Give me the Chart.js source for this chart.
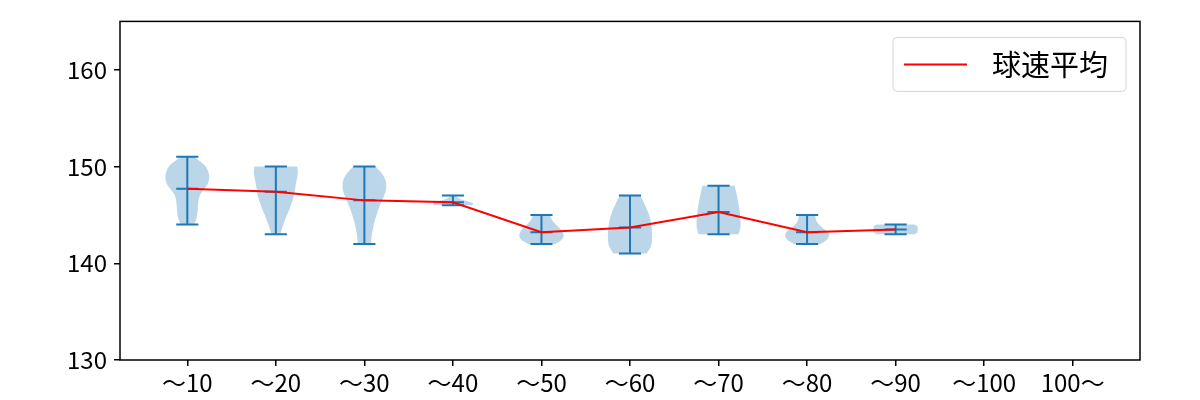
<!DOCTYPE html>
<html>
<head>
<meta charset="utf-8">
<script src="https://cdn.jsdelivr.net/npm/chart.js@4/dist/chart.umd.min.js"></script>
<style>
  body { margin: 0; background: #fff; }
</style>
</head>
<body>
<canvas id="violinChart" width="1200" height="400"></canvas>
<script>
//color
var blue = 'rgb(31, 119, 180)';
var blueFill = 'rgba(31, 119, 180, 0.3)';
var red = 'rgb(255, 0, 0)';
var fontName = '"Noto Sans CJK JP", "Noto Sans", sans-serif';

//---------------data
const categories = ['～10', '～20', '～30', '～40', '～50', '～60', '～70', '～80', '～90', '～100', '100～'];
const yTicks = [130, 140, 150, 160];
const legendLabel = '球速平均';

const meanSpeed = [147.7, 147.4, 146.5, 146.3, 143.2, 143.7, 145.3, 143.2, 143.5, null, null];
const maxSpeed = [151, 150, 150, 147, 145, 147, 148, 145, 144, null, null];
const minSpeed = [144, 143, 142, 146, 142, 141, 143, 142, 143, null, null];

// violin outline: speeds and relative half widths (1 = widest)
const violinSpeeds = [
  [151, 150.5, 150, 149.5, 149, 148.5, 148, 147.5, 147, 146.5, 146, 145.5, 145, 144.5, 144],
  [150, 149.5, 149, 148.5, 148, 147.5, 147, 146.5, 146, 145.5, 145, 144.5, 144, 143.5, 143],
  [150, 149.5, 149, 148.5, 148, 147.5, 147, 146.5, 146, 145.5, 145, 144.5, 144, 143.5, 143, 142.5, 142],
  [147, 146.8, 146.6, 146.4, 146.2, 146],
  [145, 144.75, 144.5, 144.25, 144, 143.75, 143.5, 143.25, 143, 142.75, 142.5, 142.25, 142],
  [147, 146.5, 146, 145.5, 145, 144.5, 144, 143.5, 143, 142.5, 142, 141.5, 141],
  [148, 147.5, 147, 146.5, 146, 145.5, 145, 144.5, 144, 143.5, 143],
  [145, 144.75, 144.5, 144.25, 144, 143.75, 143.5, 143.25, 143, 142.75, 142.5, 142.25, 142],
  [144, 143.9, 143.75, 143.5, 143.25, 143.1, 143],
  [],
  []
];
const violinWidths = [
  [0.3, 0.6, 0.85, 0.95, 1.0, 0.98, 0.88, 0.7, 0.55, 0.5, 0.48, 0.47, 0.45, 0.4, 0.3],
  [0.97, 1.0, 0.98, 0.93, 0.89, 0.86, 0.82, 0.76, 0.68, 0.6, 0.5, 0.42, 0.33, 0.27, 0.2],
  [0.5, 0.72, 0.88, 0.97, 1.0, 0.97, 0.9, 0.8, 0.7, 0.62, 0.55, 0.48, 0.42, 0.38, 0.34, 0.31, 0.3],
  [0.1, 0.2, 0.35, 0.65, 0.95, 0.85],
  [0.38, 0.42, 0.47, 0.55, 0.65, 0.77, 0.88, 0.96, 1.0, 1.0, 0.95, 0.82, 0.6],
  [0.46, 0.58, 0.68, 0.78, 0.86, 0.92, 0.96, 0.99, 1.0, 1.0, 0.98, 0.9, 0.75],
  [0.72, 0.78, 0.83, 0.87, 0.91, 0.95, 0.97, 0.99, 1.0, 0.98, 0.9],
  [0.36, 0.38, 0.4, 0.45, 0.53, 0.65, 0.8, 0.93, 1.0, 0.99, 0.93, 0.8, 0.6],
  [0.85, 0.95, 1.0, 1.0, 1.0, 0.95, 0.85],
  [],
  []
];

//---------------helpers
function smoothSide(ctx, pts, first) {
  if (first) ctx.moveTo(pts[0][0], pts[0][1]); else ctx.lineTo(pts[0][0], pts[0][1]);
  for (let k = 1; k < pts.length - 1; k++) {
    const mx = (pts[k][0] + pts[k + 1][0]) / 2;
    const my = (pts[k][1] + pts[k + 1][1]) / 2;
    ctx.quadraticCurveTo(pts[k][0], pts[k][1], mx, my);
  }
  const last = pts[pts.length - 1];
  ctx.lineTo(last[0], last[1]);
}

const violinPlugin = {
  id: 'violins',
  beforeDatasetsDraw(chart) {
    const ctx = chart.ctx;
    const ca = chart.chartArea;
    const xs = chart.scales.x, ys = chart.scales.y;
    const halfW = xs.getPixelForValue(1.25) - xs.getPixelForValue(1);
    ctx.save();
    ctx.beginPath();
    ctx.rect(ca.left, ca.top, ca.right - ca.left, ca.bottom - ca.top);
    ctx.clip();
    violinSpeeds.forEach((speeds, i) => {
      if (!speeds.length) return;
      const cx = xs.getPixelForValue(i + 1);
      const right = speeds.map((v, k) => [cx + violinWidths[i][k] * halfW, ys.getPixelForValue(v)]);
      const left = right.slice().reverse().map(p => [2 * cx - p[0], p[1]]);
      ctx.beginPath();
      smoothSide(ctx, right, true);
      smoothSide(ctx, left, false);
      ctx.closePath();
      ctx.fillStyle = blueFill;
      ctx.fill();
    });
    ctx.strokeStyle = blue;
    ctx.lineWidth = 2;
    categories.forEach((c, i) => {
      if (maxSpeed[i] == null) return;
      const cx = xs.getPixelForValue(i + 1);
      const capW = halfW / 2;
      ctx.beginPath();
      ctx.moveTo(cx, ys.getPixelForValue(maxSpeed[i]));
      ctx.lineTo(cx, ys.getPixelForValue(minSpeed[i]));
      [maxSpeed[i], minSpeed[i], meanSpeed[i]].forEach(v => {
        const py = ys.getPixelForValue(v);
        ctx.moveTo(cx - capW, py);
        ctx.lineTo(cx + capW, py);
      });
      ctx.stroke();
    });
    ctx.restore();
  },
  afterDatasetsDraw(chart) {
    const ctx = chart.ctx;
    const ca = chart.chartArea;
    ctx.save();
    ctx.strokeStyle = '#000';
    ctx.lineWidth = 1.5;
    ctx.strokeRect(ca.left, ca.top, ca.right - ca.left, ca.bottom - ca.top);
    // legend
    const boxW = 233, boxH = 54;
    const bx = ca.right - 14 - boxW, by = ca.top + 16;
    ctx.beginPath();
    ctx.roundRect(bx, by, boxW, boxH, 4);
    ctx.fillStyle = 'rgba(255,255,255,0.8)';
    ctx.fill();
    ctx.strokeStyle = 'rgba(204,204,204,0.8)';
    ctx.lineWidth = 1;
    ctx.stroke();
    ctx.beginPath();
    ctx.moveTo(bx + 11, by + boxH / 2);
    ctx.lineTo(bx + 74, by + boxH / 2);
    ctx.strokeStyle = red;
    ctx.lineWidth = 2;
    ctx.stroke();
    ctx.fillStyle = '#000';
    ctx.font = '29px ' + fontName;
    ctx.textBaseline = 'middle';
    ctx.textAlign = 'left';
    ctx.fillText(legendLabel, bx + 99, by + boxH / 2 + 1);
    ctx.restore();
  }
};

//---------------chart
new Chart(
  document.getElementById('violinChart'), {
    type: 'line',
    data: {
      datasets: [{
        label: legendLabel,
        data: meanSpeed.map((v, i) => ({ x: i + 1, y: v })),
        borderColor: red,
        backgroundColor: red,
        borderWidth: 2,
        pointRadius: 0,
        tension: 0,
        fill: false
      }]
    },
    options: {
      responsive: false,
      animation: false,
      devicePixelRatio: 1,
      layout: { padding: { top: 19, right: 60, left: 0, bottom: 0 } },
      plugins: {
        legend: { display: false },
        tooltip: { enabled: false }
      },
      scales: {
        x: {
          type: 'linear',
          min: 0.24,
          max: 11.76,
          afterBuildTicks: (s) => { s.ticks = categories.map((c, i) => ({ value: i + 1 })); },
          afterFit: (s) => { s.height = 40; },
          ticks: {
            autoSkip: false,
            maxRotation: 0,
            padding: 2,
            color: '#000',
            font: { family: fontName, size: 24 },
            callback: (v, idx) => categories[idx]
          },
          grid: { drawOnChartArea: false, drawTicks: true, tickLength: 6, color: '#000', lineWidth: 1.5 },
          border: { display: false }
        },
        y: {
          min: 130,
          max: 165,
          afterBuildTicks: (s) => { s.ticks = yTicks.map(v => ({ value: v })); },
          afterFit: (s) => { s.width = 120; },
          ticks: {
            padding: 7,
            color: '#000',
            font: { family: fontName, size: 24 }
          },
          grid: { drawOnChartArea: false, drawTicks: true, tickLength: 6, color: '#000', lineWidth: 1.5 },
          border: { display: false }
        }
      }
    },
    plugins: [violinPlugin]
  }
);
</script>
</body>
</html>
